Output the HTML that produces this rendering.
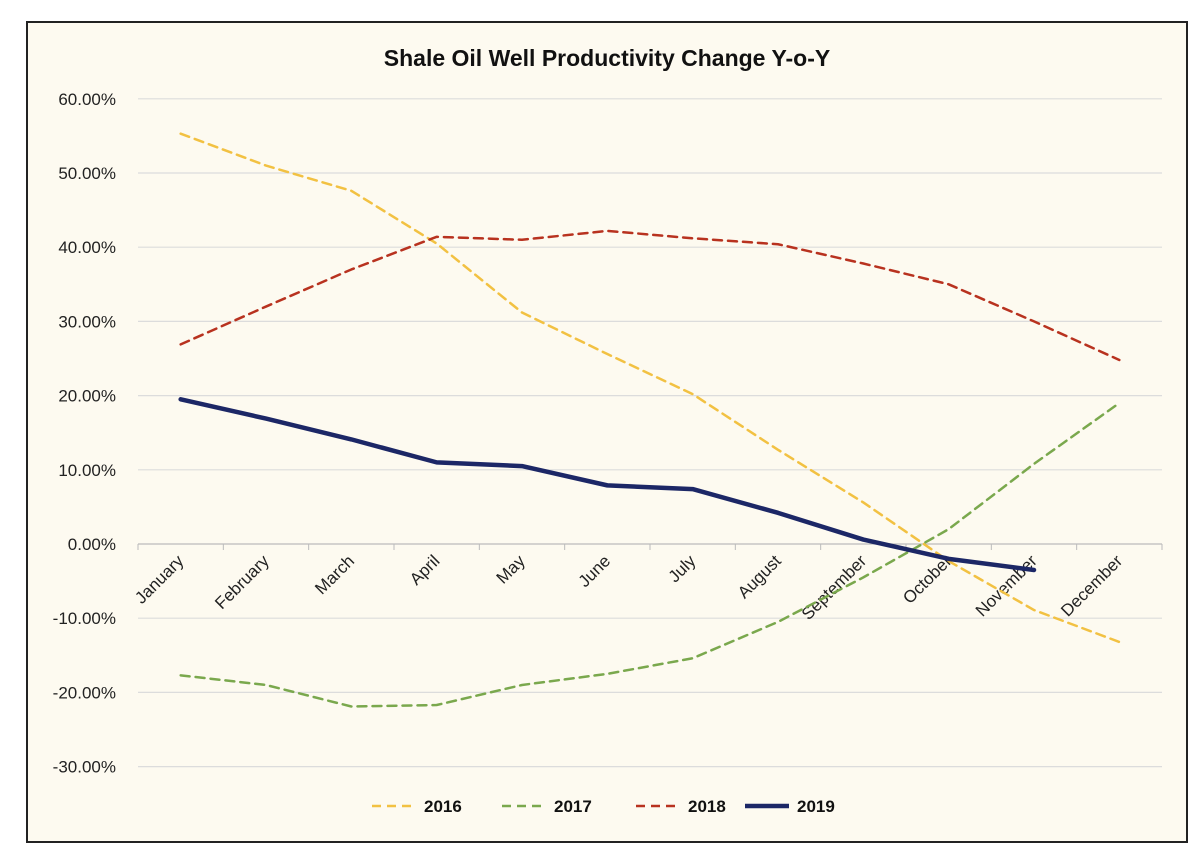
<!DOCTYPE html>
<html><head><meta charset="utf-8"><style>
body{margin:0;background:#fff;}
svg{display:block;font-family:"Liberation Sans",Arial,sans-serif;}
</style></head><body>
<svg width="1200" height="862">
<rect x="0" y="0" width="1200" height="862" fill="#ffffff"/>
<rect x="27" y="22" width="1160" height="820" fill="#fdfaf0" stroke="#222" stroke-width="2"/>
<text x="607" y="66" text-anchor="middle" font-size="23" font-weight="bold" fill="#111">Shale Oil Well Productivity Change Y-o-Y</text>
<g id="grid"></g><g id="xlabels"></g><g id="series"></g><g id="legend"></g>
</svg>
<script>
const months=["January","February","March","April","May","June","July","August","September","October","November","December"];
const yTicks=[60,50,40,30,20,10,0,-10,-20,-30];
const s2016=[55.3,51.0,47.6,40.5,31.2,25.6,20.2,12.7,5.6,-2.3,-8.9,-13.2];
const s2017=[-17.7,-19.0,-21.9,-21.7,-19.0,-17.5,-15.4,-10.5,-4.5,2.0,10.8,19.0];
const s2018=[26.9,32.0,37.0,41.4,41.0,42.2,41.2,40.4,37.8,35.0,30.0,24.8];
const s2019=[19.5,16.9,14.1,11.0,10.5,7.9,7.4,4.2,0.6,-2.0,-3.5];
const seriesNames=["2016","2017","2018","2019"];
const NS="http://www.w3.org/2000/svg";
const L=138,R=1162,bw=(R-L)/12;
const x=i=>L+bw*(i+0.5);
const y=v=>544-v*7.42;
function mk(t,a,p){const e=document.createElementNS(NS,t);for(const k in a)e.setAttribute(k,a[k]);p.appendChild(e);return e;}
const grid=document.getElementById('grid');
yTicks.forEach(v=>{
  const ln=mk('line',{x1:L,x2:R,y1:y(v),y2:y(v),stroke:v===0?'#bbb':'#dcdcdc','stroke-width':1.2},grid);
  
  
  const t=mk('text',{x:116,y:y(v)+6,'text-anchor':'end','font-size':17,fill:'#222'},grid);
  t.textContent=v.toFixed(2)+'%';
  
  
});
for(let i=0;i<=12;i++){const tk=mk('line',{x1:L+bw*i,x2:L+bw*i,y1:544,y2:550,stroke:'#bbb'},grid);
  
  }
const xl=document.getElementById('xlabels');
months.forEach((m,i)=>{
  const t=mk('text',{x:x(i)+4,y:562,'text-anchor':'end','font-size':17,fill:'#222',transform:`rotate(-45 ${x(i)+4} 562)`},xl);
  t.textContent=m;
  
  
});
const styles=[{c:'#f2c142',d:'9 6',w:2.5},{c:'#7aa84d',d:'9 6',w:2.5},{c:'#b8321f',d:'9 6',w:2.5},{c:'#1c2766',d:'',w:4.5}];
const data=[s2016,s2017,s2018,s2019];
const sg=document.getElementById('series');
data.forEach((arr,k)=>{
  const p=mk('polyline',{points:arr.map((v,i)=>x(i)+','+y(v)).join(' '),fill:'none',stroke:styles[k].c,'stroke-width':styles[k].w,'stroke-dasharray':styles[k].d,'stroke-linejoin':'round','stroke-linecap':'round'},sg);
  
  
});
const lg=document.getElementById('legend');
const lx=[372,502,636,745];
seriesNames.forEach((n,k)=>{
  const g=mk('g',{},lg);
  
  
  mk('line',{x1:lx[k],x2:lx[k]+44,y1:806,y2:806,stroke:styles[k].c,'stroke-width':styles[k].w,'stroke-dasharray':styles[k].d},g);
  const t=mk('text',{x:lx[k]+52,y:812,'font-size':17,'font-weight':'bold',fill:'#111'},g);
  t.textContent=n;
});
</script>
</body></html>
